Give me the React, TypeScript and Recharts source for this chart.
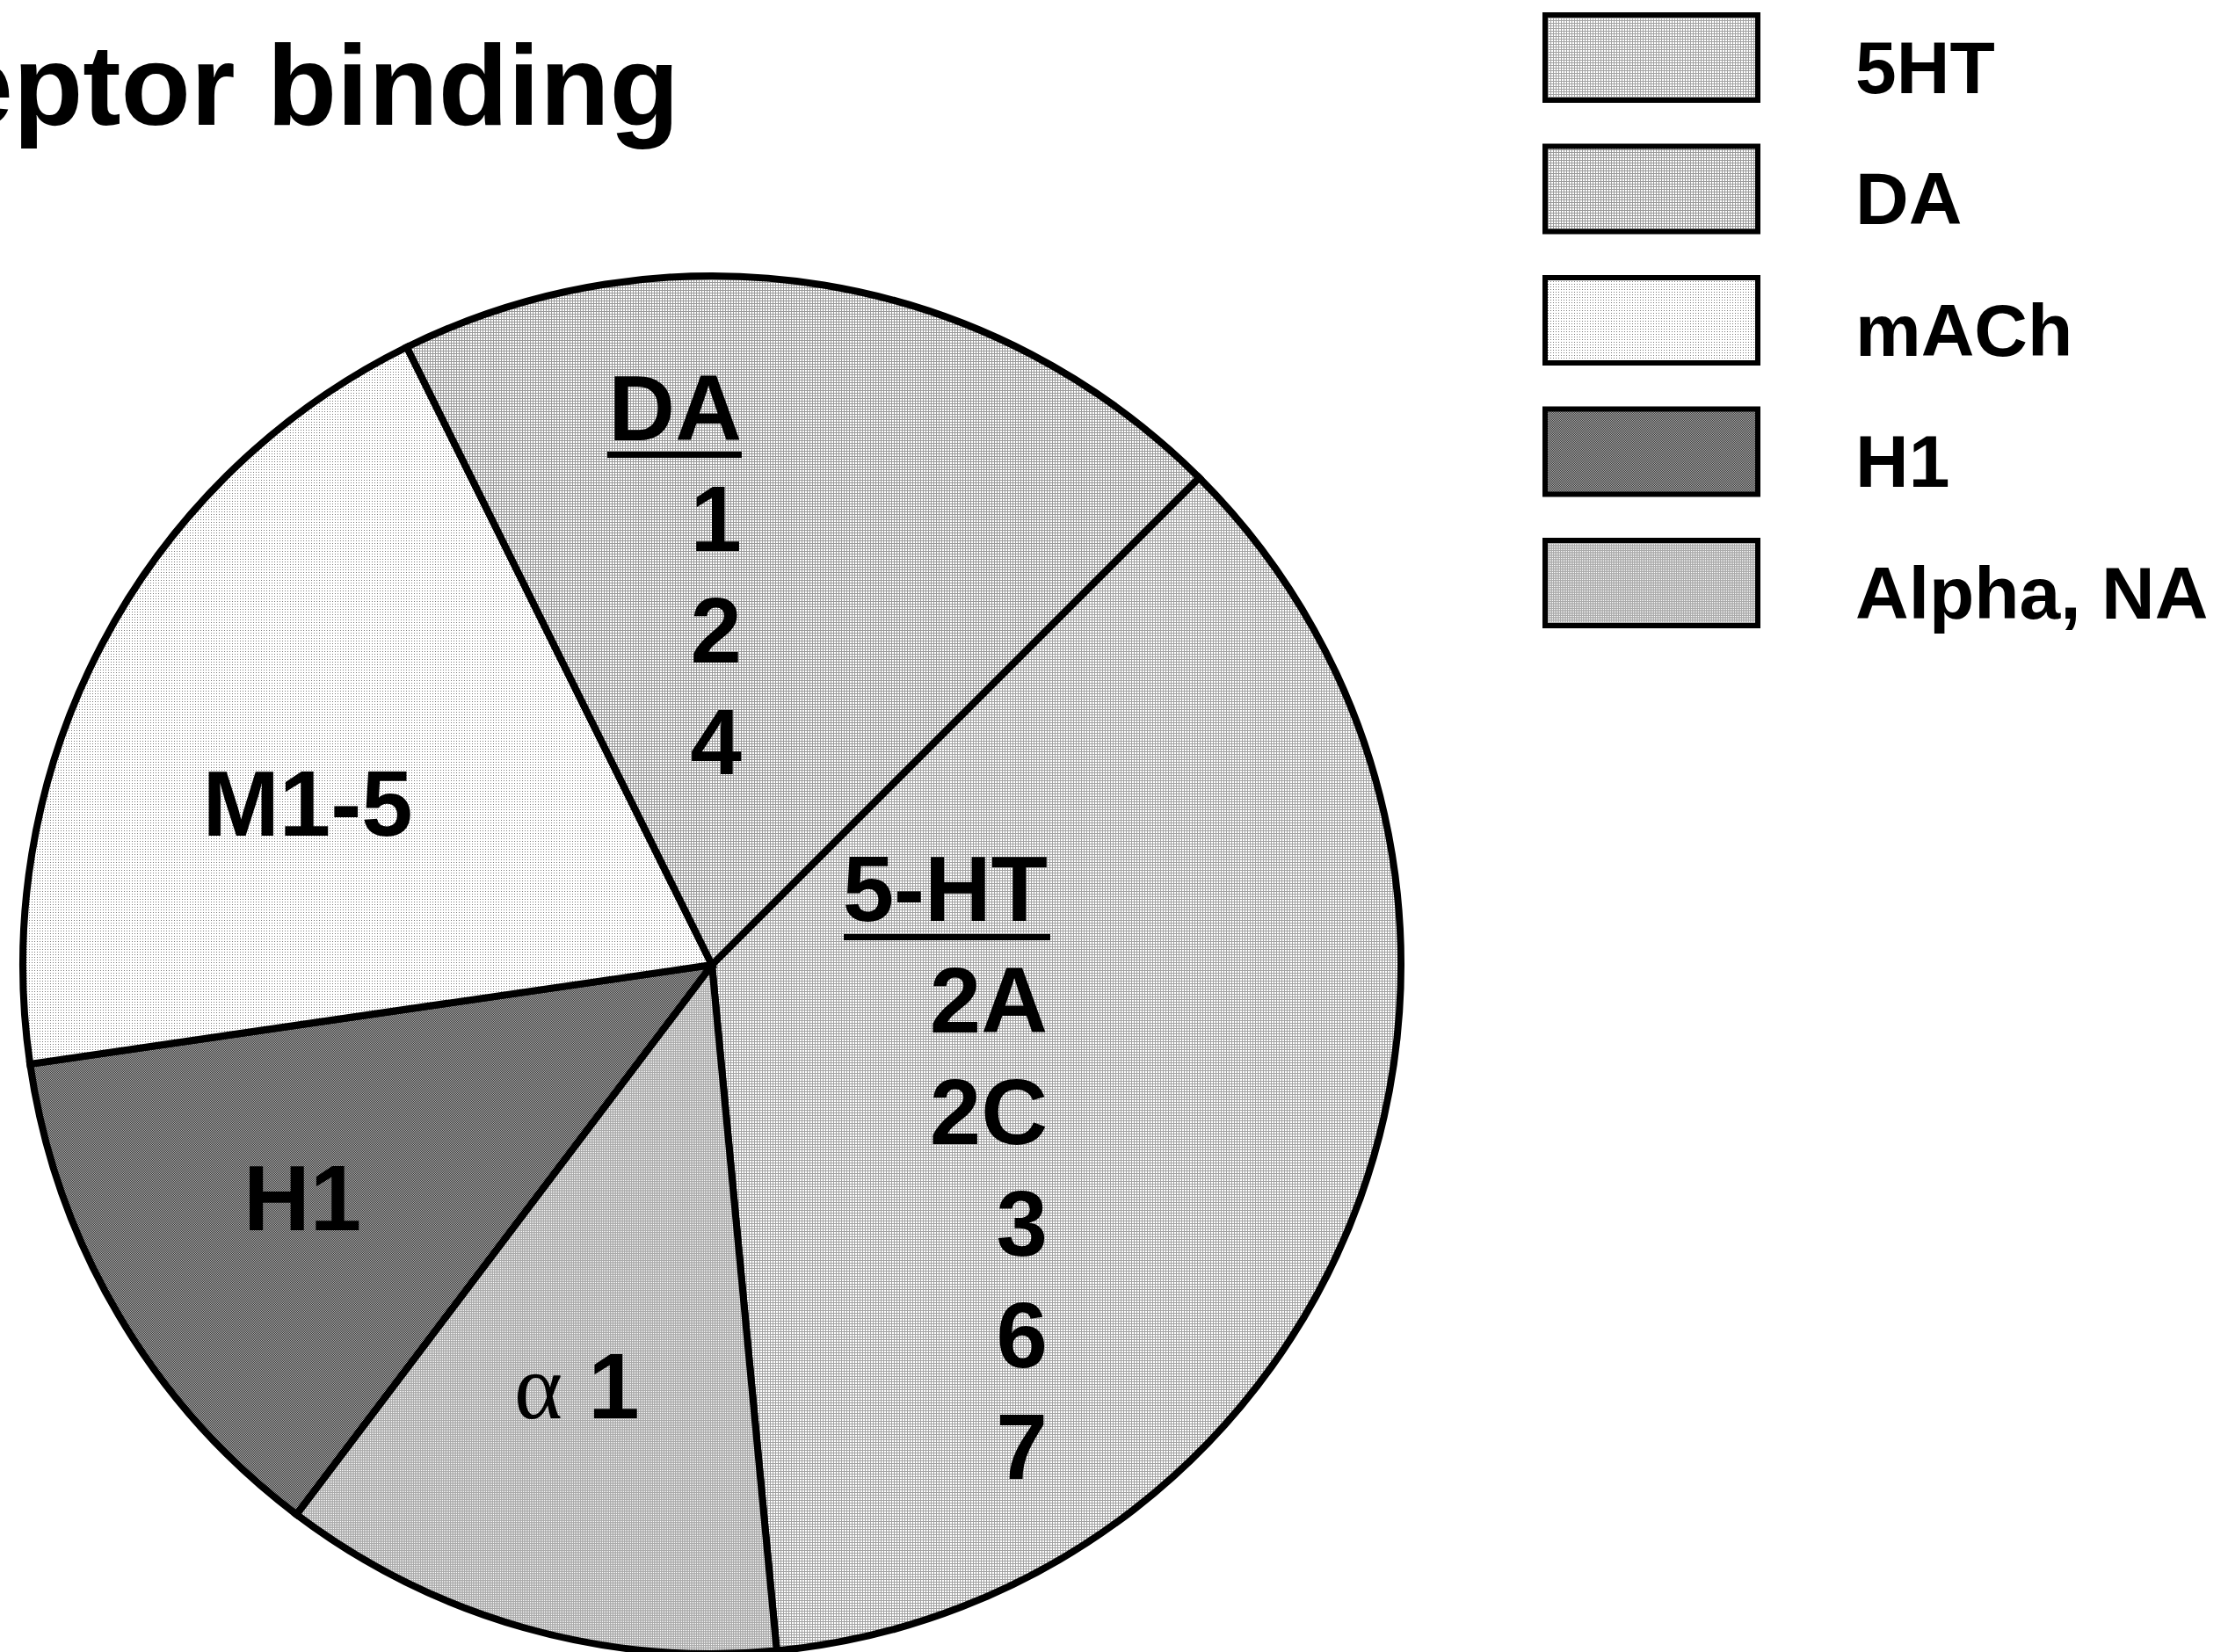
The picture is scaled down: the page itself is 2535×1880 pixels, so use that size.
import React from 'react';
import { PieChart, Pie, Cell, Legend } from 'recharts';

// slices, clockwise from the upper right
const sliceNames = ['5HT', 'Alpha', 'H1', 'mACh', 'DA'];
const sliceShares = [36, 11.8, 12.4, 20, 19.8];
const sliceFills = ['fill5ht', 'fillAlpha', 'fillH1', 'fillMach', 'fillDA'];

// legend rows (top to bottom)
const legendNames = ['5HT', 'DA', 'mACh', 'H1', 'Alpha, NA'];
const legendFills = ['fill5ht', 'fillDA', 'fillMach', 'fillH1', 'fillAlpha'];

// receptor subtypes written inside the slices
const daHeading = 'DA';
const daSubtypes = ['1', '2', '4'];
const htHeading = '5-HT';
const htSubtypes = ['2A', '2C', '3', '6', '7'];
const machText = 'M1-5';
const h1Text = 'H1';
const alphaText = '1';

const titleText = 'Receptor binding';

const data = sliceNames.map((name, i) => ({ name, value: sliceShares[i] }));

const FONT = '"Liberation Sans", Arial, Helvetica, sans-serif';
const LABEL_SIZE = 105;
const LINE_STEP = 127;

const bold = { fontFamily: FONT, fontWeight: 'bold' as const, fontSize: LABEL_SIZE, fill: '#000' };

const renderSliceLabel = (props: any) => {
  const { cx, cy, name, index } = props;
  if (name === 'DA') {
    const right = cx + 34;
    return (
      <g key={`lbl-${index}`}>
        <text x={right} y={cy - 597} textAnchor="end" {...bold}>{daHeading}</text>
        <rect x={right - 153} y={cy - 584} width={153} height={7} fill="#000" />
        {daSubtypes.map((s, i) => (
          <text key={s} x={right} y={cy - 471 + i * LINE_STEP} textAnchor="end" {...bold}>{s}</text>
        ))}
      </g>
    );
  }
  if (name === '5HT') {
    const right = cx + 382;
    return (
      <g key={`lbl-${index}`}>
        <text x={right} y={cy - 50} textAnchor="end" {...bold}>{htHeading}</text>
        <rect x={cx + 150} y={cy - 35} width={235} height={7} fill="#000" />
        {htSubtypes.map((s, i) => (
          <text key={s} x={right} y={cy + 77 + i * LINE_STEP} textAnchor="end" {...bold}>{s}</text>
        ))}
      </g>
    );
  }
  if (name === 'mACh') {
    return <text key={`lbl-${index}`} x={cx - 460} y={cy - 147} textAnchor="middle" {...bold}>{machText}</text>;
  }
  if (name === 'H1') {
    return <text key={`lbl-${index}`} x={cx - 466} y={cy + 302} textAnchor="middle" {...bold}>{h1Text}</text>;
  }
  return (
    <text key={`lbl-${index}`} x={cx - 225} y={cy + 516} {...bold}>
      <tspan fontFamily='"Liberation Serif", "Times New Roman", serif' fontWeight="normal">α</tspan>
      <tspan> {alphaText}</tspan>
    </text>
  );
};

const BOX_W = 242;
const BOX_H = 97;
const ROW_STEP = 149.5;

const renderLegend = () => (
  <svg width={780} height={760} style={{ display: 'block' }}>
    {legendNames.map((name, i) => (
      <g key={name}>
        <rect
          x={3}
          y={3 + i * ROW_STEP}
          width={BOX_W}
          height={BOX_H}
          fill={`url(#${legendFills[i]})`}
          stroke="#000"
          strokeWidth={6}
        />
        <text
          x={356}
          y={3 + i * ROW_STEP + BOX_H / 2 + 40}
          fontFamily={FONT}
          fontWeight="bold"
          fontSize={84}
          fill="#000"
        >
          {name}
        </text>
      </g>
    ))}
  </svg>
);

export default function App() {
  return (
    <div style={{ position: 'absolute', left: 0, top: 0, width: 2535, height: 1880, background: '#fff' }}>
      <PieChart width={2535} height={1880} margin={{ top: 0, right: 0, bottom: 0, left: 0 }}>
        <defs>
          <pattern id="fill5ht" width="3" height="3" patternUnits="userSpaceOnUse">
            <rect width="3" height="3" fill="#ffffff" />
            <rect width="3" height="1" fill="#a2a2a2" />
            <rect width="1" height="3" fill="#a2a2a2" />
          </pattern>
          <pattern id="fillDA" width="3" height="3" patternUnits="userSpaceOnUse">
            <rect width="3" height="3" fill="#ffffff" />
            <rect width="3" height="1" fill="#9a9a9a" />
            <rect width="1" height="3" fill="#9a9a9a" />
          </pattern>
          <pattern id="fillAlpha" width="2" height="2" patternUnits="userSpaceOnUse">
            <rect width="2" height="2" fill="#aaaaaa" />
            <rect x="1" y="1" width="1" height="1" fill="#ffffff" />
          </pattern>
          <pattern id="fillH1" width="2" height="2" patternUnits="userSpaceOnUse">
            <rect width="2" height="2" fill="#3c3c3c" />
            <rect width="1" height="1" fill="#a8a8a8" />
            <rect x="1" y="1" width="1" height="1" fill="#a8a8a8" />
          </pattern>
          <pattern id="fillMach" width="3" height="3" patternUnits="userSpaceOnUse">
            <rect width="3" height="3" fill="#ffffff" />
            <rect width="1" height="1" fill="#7a7a7a" />
          </pattern>
        </defs>
        <text x={773} y={142} textAnchor="end" fontFamily={FONT} fontWeight="bold" fontSize={130} fill="#000">
          {titleText}
        </text>
        <Pie
          data={data}
          dataKey="value"
          nameKey="name"
          cx={810}
          cy={1098}
          innerRadius={0}
          outerRadius={784}
          startAngle={45}
          endAngle={-315}
          stroke="#000"
          strokeWidth={8}
          label={renderSliceLabel}
          labelLine={false}
          isAnimationActive={false}
        >
          {data.map((d, i) => (
            <Cell key={d.name} fill={`url(#${sliceFills[i]})`} stroke="#000" strokeWidth={8} />
          ))}
        </Pie>
        <Legend
          layout="vertical"
          align="right"
          verticalAlign="top"
          content={renderLegend}
          wrapperStyle={{ left: 1755, top: 14, width: 780 }}
        />
      </PieChart>
    </div>
  );
}
